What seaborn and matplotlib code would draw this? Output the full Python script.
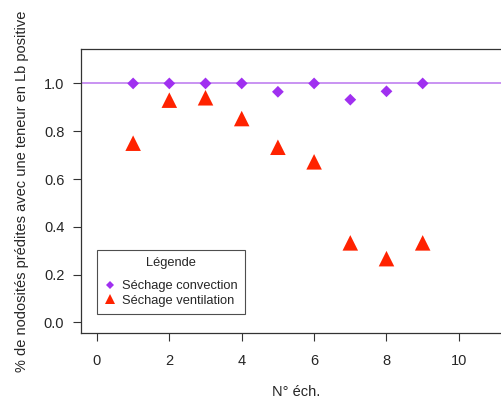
import matplotlib
matplotlib.use("Agg")
import matplotlib.pyplot as plt
import seaborn as sns
import pandas as pd
from matplotlib.lines import Line2D

sns.set_style("ticks")
plt.rcParams['font.family'] = ['Liberation Sans', 'DejaVu Sans']

echantillons = [1, 2, 3, 4, 5, 6, 7, 8, 9]
convection = [1.0, 1.0, 1.0, 1.0, 0.965, 1.0, 0.932, 0.967, 1.0]
ventilation = [0.75, 0.93, 0.94, 0.853, 0.733, 0.672, 0.333, 0.267, 0.333]
series_names = ["Séchage convection", "Séchage ventilation"]
x_ticks = [0, 2, 4, 6, 8, 10]
y_ticks = [0.0, 0.2, 0.4, 0.6, 0.8, 1.0]

df = pd.DataFrame({
    "ech": echantillons * 2,
    "val": convection + ventilation,
    "serie": [series_names[0]] * len(echantillons) + [series_names[1]] * len(echantillons),
})

colors = {series_names[0]: "#A030F0", series_names[1]: "#FF2200"}
markers = {series_names[0]: "D", series_names[1]: "^"}
sizes = {series_names[0]: 36, series_names[1]: 125}

fig = plt.figure(figsize=(5.02, 4.01), dpi=100)
W, H = 502, 401
left, right, top, bottom = 81, 511, 49, 333
ax = fig.add_axes([left / W, 1 - bottom / H, (right - left) / W, (bottom - top) / H])

ax.axhline(1.0, color="#C080F0", lw=1.2, zorder=1)

sns.scatterplot(data=df, x="ech", y="val", hue="serie", style="serie", size="serie",
                palette=colors, markers=markers, sizes=sizes, edgecolor="none",
                legend=False, ax=ax, zorder=3)

ax.set_xlim(-0.44, 11.44)
ax.set_ylim(-0.044, 1.144)
ax.set_xticks(x_ticks)
ax.set_xticklabels([str(t) for t in x_ticks])
ax.set_yticks(y_ticks)
ax.set_yticklabels([f"{t:.1f}" for t in y_ticks])
ax.tick_params(axis="both", labelsize=10.5, length=6, width=0.8, color="#333333", direction="out")
ax.tick_params(axis="x", pad=9)
ax.tick_params(axis="y", pad=6)
for sp in ax.spines.values():
    sp.set_color("#333333")
    sp.set_linewidth(0.9)

ax.set_xlabel("N° éch.", fontsize=10.5, labelpad=12)
ax.set_ylabel("% de nodosités prédites avec une teneur en Lb positive", fontsize=10.5, labelpad=11)

handles = [
    Line2D([], [], ls="none", marker="D", color=colors[series_names[0]], markersize=4, markeredgewidth=0),
    Line2D([], [], ls="none", marker="^", color=colors[series_names[1]], markersize=6.5, markeredgewidth=0),
]
leg = ax.legend(handles, series_names, title="Légende", loc="lower left",
                bbox_to_anchor=((97 - left) / (right - left), (bottom - 314) / (bottom - top)),
                fontsize=9.3, title_fontsize=9.3, frameon=True, fancybox=False,
                handlelength=0.9, handletextpad=0.5, borderpad=0.55, labelspacing=0.2,
                borderaxespad=0)
leg.get_frame().set_edgecolor("#222222")
leg.get_frame().set_linewidth(0.8)
leg._legend_box.sep = 8

fig.savefig("out.png", dpi=100)
